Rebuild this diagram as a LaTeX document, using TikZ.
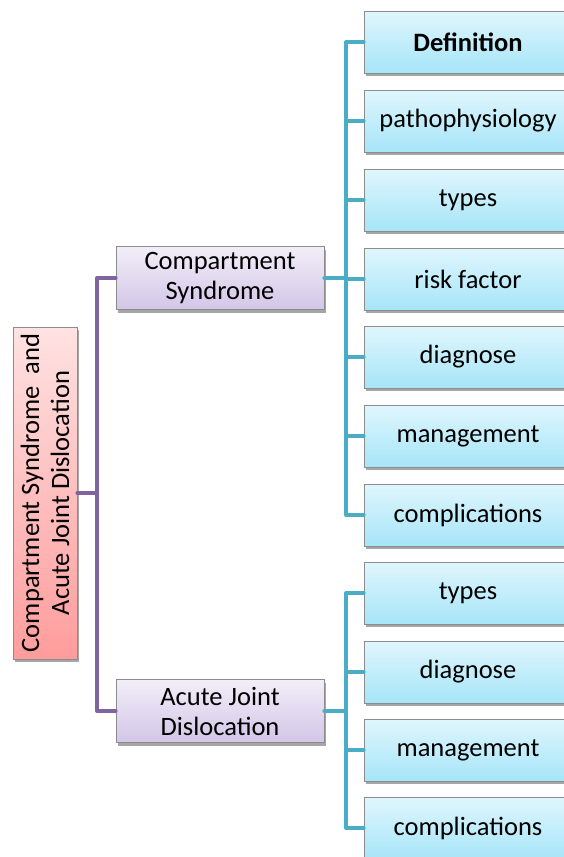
\documentclass[tikz,border=0pt]{standalone}
\usepackage{fontspec}
\setmainfont{Carlito}
\usetikzlibrary{shadows}
\definecolor{tealline}{HTML}{4BACC6}
\definecolor{purpline}{HTML}{8064A2}
\definecolor{leaftop}{HTML}{E0F6FD}
\definecolor{leafbot}{HTML}{A6E5F8}
\definecolor{midtop}{HTML}{F2EEF8}
\definecolor{midbot}{HTML}{D3C6E8}
\definecolor{roottop}{HTML}{FFE2E2}
\definecolor{rootbot}{HTML}{FF9C9C}
\definecolor{boxborder}{HTML}{8C8C8C}
\tikzset{
  boxbase/.style={draw=boxborder, line width=0.8pt, inner sep=2pt, align=center,
    font=\fontsize{26.5}{30}\selectfont,
    drop shadow={shadow xshift=2pt, shadow yshift=-3pt, opacity=0.35, fill=black}},
  leafbox/.style={boxbase, minimum width=208pt, minimum height=62pt, top color=leaftop, bottom color=leafbot},
  midbox/.style={boxbase, minimum width=208pt, minimum height=63pt, top color=midtop, bottom color=midbot},
  rootbox/.style={boxbase, rotate=90, minimum width=332pt, minimum height=64pt, top color=roottop, bottom color=rootbot},
  tline/.style={draw=tealline, line width=4pt, line join=round, line cap=round},
  pline/.style={draw=purpline, line width=4pt, line join=round, line cap=round}
}
\begin{document}
\begin{tikzpicture}[x=1pt,y=-1pt]
\useasboundingbox (0,0) rectangle (564,857);
\clip (0,0) rectangle (564,857);
\coordinate (pj) at (97,493);
\coordinate (tj1) at (346,278);
\coordinate (tj2) at (346,711);
\node[rootbox] (root) at (45,493) {Compartment Syndrome\ \ and\\Acute Joint Dislocation};
\node[midbox] (m1) at (220,278) {Compartment\\Syndrome};
\node[midbox] (m2) at (220,711) {Acute Joint\\Dislocation};
\node[leafbox] (a1) at (468,42) {\textbf{Definition}};
\node[leafbox] (a2) at (468,121) {pathophysiology};
\node[leafbox] (a3) at (468,200) {types};
\node[leafbox] (a4) at (468,279) {risk factor};
\node[leafbox] (a5) at (468,357) {diagnose};
\node[leafbox] (a6) at (468,436) {management};
\node[leafbox] (a7) at (468,515) {complications};
\node[leafbox] (b1) at (468,593) {types};
\node[leafbox] (b2) at (468,672) {diagnose};
\node[leafbox] (b3) at (468,750) {management};
\node[leafbox] (b4) at (468,828) {complications};
\draw[pline] (root.south) -- (pj);
\draw[pline] (m1.west) -| (pj);
\draw[pline] (m2.west) -| (pj);
\draw[tline] (m1.east) -- (tj1);
\foreach \n in {a1,a2,a3,a4,a5,a6,a7}{\draw[tline] (\n.west) -| (tj1);}
\draw[tline] (m2.east) -- (tj2);
\foreach \n in {b1,b2,b3,b4}{\draw[tline] (\n.west) -| (tj2);}
\end{tikzpicture}
\end{document}
